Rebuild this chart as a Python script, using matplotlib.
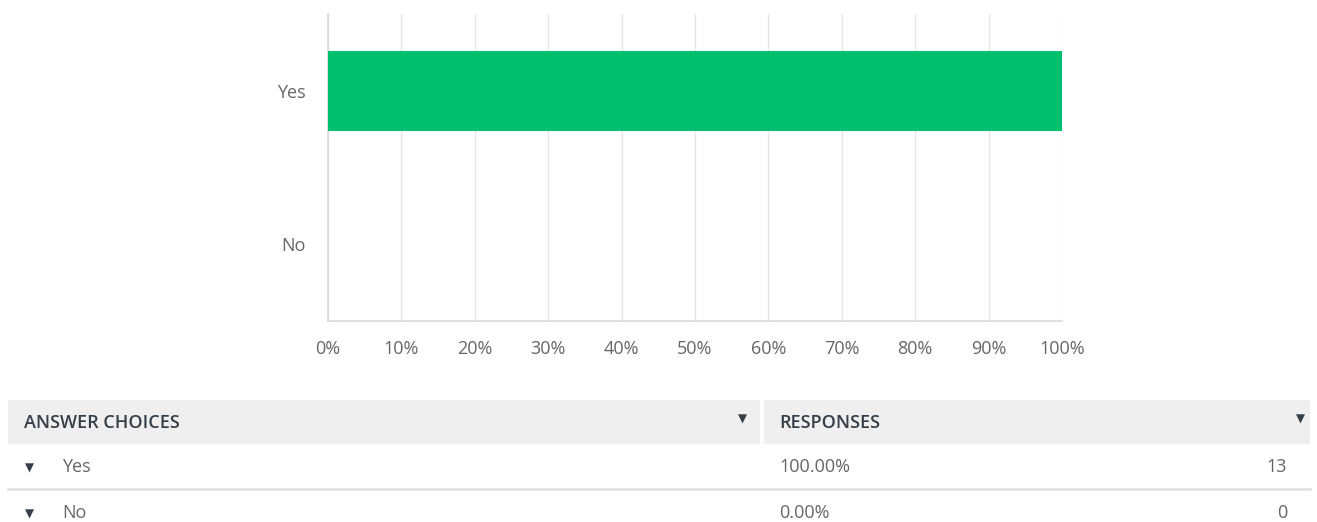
import matplotlib
matplotlib.use('Agg')

import matplotlib.pyplot as plt
from matplotlib.patches import Rectangle

# survey data
choices = ['Yes', 'No']
percents = [100.0, 0.0]
counts = [13, 0]
xticks = [0, 10, 20, 30, 40, 50, 60, 70, 80, 90, 100]

green = '#00bf6f'
grid_col = '#e6e6e6'
text_col = '#666666'
dark = '#333e48'

plt.rcParams['font.family'] = ['Open Sans', 'DejaVu Sans']

W, H = 1317, 522
fig = plt.figure(figsize=(W / 100, H / 100), dpi=100)

# --- bar chart ---
ax = fig.add_axes([328 / W, 1 - 321 / H, (1062 - 328) / W, (321 - 14) / H])
ax.barh(range(len(choices)), percents, height=0.52, color=green, zorder=3)
ax.set_xlim(0, 100)
ax.set_ylim(len(choices) - 0.5, -0.5)
ax.set_xticks(xticks)
ax.set_xticklabels(['%d%%' % t for t in xticks])
ax.set_yticks(range(len(choices)))
ax.set_yticklabels(choices)
ax.tick_params(length=0, labelsize=13, colors=text_col, pad=14)
ax.tick_params(axis='y', pad=16)
ax.grid(axis='x', color=grid_col, linewidth=1, zorder=0)
for s in ['top', 'right']:
    ax.spines[s].set_visible(False)
for s in ['left', 'bottom']:
    ax.spines[s].set_color('#d9d9d9')
    ax.spines[s].set_linewidth(1.2)

# --- response table ---
tx = fig.add_axes([0, 0, 1, 1])
tx.set_xlim(0, W)
tx.set_ylim(H, 0)
tx.axis('off')

tx.add_patch(Rectangle((8, 400), 752, 44, color='#efefef', lw=0))
tx.add_patch(Rectangle((764, 400), 546, 44, color='#efefef', lw=0))
tx.text(24, 423, 'ANSWER CHOICES', fontsize=13, fontweight='semibold', color=dark, va='center')
tx.text(779, 423, 'RESPONSES', fontsize=13, fontweight='semibold', color=dark, va='center')
tx.text(742, 419, '\u25bc', fontsize=8.5, color=dark, va='center', ha='center', family='DejaVu Sans')
tx.text(1300, 419, '\u25bc', fontsize=8.5, color=dark, va='center', ha='center', family='DejaVu Sans')

row_y = [467, 513]
for i, (c, p, n) in enumerate(zip(choices, percents, counts)):
    y = row_y[i]
    tx.text(29, y + 1, '\u25bc', fontsize=8.5, color=dark, va='center', ha='center', family='DejaVu Sans')
    tx.text(62, y, c, fontsize=13, color=text_col, va='center')
    tx.text(779, y, '%.2f%%' % p, fontsize=13, color=text_col, va='center')
    tx.text(1287, y, str(n), fontsize=13, color=text_col, va='center', ha='right')
tx.plot([8, 1310], [489, 489], color='#e3e3e3', lw=2)

fig.savefig('out.png', dpi=100)
